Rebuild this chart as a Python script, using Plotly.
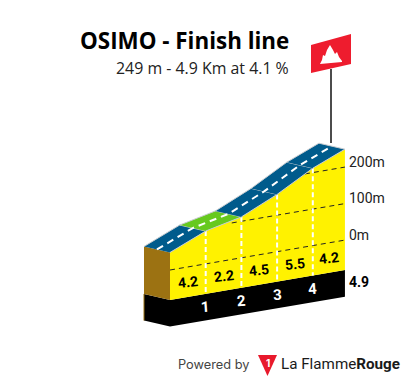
import plotly.graph_objects as go

# --- data ---
title = "OSIMO - Finish line"
subtitle = "249 m - 4.9 Km at 4.1 %"
km = [0, 1, 2, 3, 4, 4.9]
altitude = [48, 90, 112, 157, 212, 249]
gradient = [4.2, 2.2, 4.5, 5.5, 4.2]
segment_colors = ["#005b8c", "#66c91e", "#005b8c", "#005b8c", "#005b8c"]
km_marks = [1, 2, 3, 4]
km_mark_labels = ["1", "2", "3", "4"]
alt_grid = [0, 100, 200]
alt_grid_start_km = [0, 1.73, 3.78]
alt_grid_labels = ["0m", "100m", "200m"]
base_alt = -82
plinth_alt = -155
total_label = "4.9"

# --- projection: oblique view, altitude sheared along distance ---
W, H = 405, 381
PX_KM, PX_M = 35.7, 0.365
X0, Y0 = 170.0, 270.0
SHEAR = 0.171 * PX_KM / PX_M
BACK_KM, BACK_M = -26 / PX_KM, 6 / PX_M


def Y(k, a):
    return a + SHEAR * k


def back(k, a):
    # depth offset of the road / side wall
    return k + BACK_KM, Y(k, a) + BACK_M


def poly(xs, ys, color, line=None, w=0):
    return go.Scatter(x=xs, y=ys, mode="lines", fill="toself", fillcolor=color,
                      line=dict(color=line or color, width=w), hoverinfo="skip", showlegend=False)


def line(xs, ys, color, w, dash="solid"):
    return go.Scatter(x=xs, y=ys, mode="lines", line=dict(color=color, width=w, dash=dash),
                      hoverinfo="skip", showlegend=False)


fig = go.Figure()
k0, kn = km[0], km[-1]

# plinth
bx0, by0 = back(k0, base_alt)
bx1, by1 = back(k0, plinth_alt)
fig.add_trace(poly([bx0, k0, k0, bx1], [by0, Y(k0, base_alt), Y(k0, plinth_alt), by1], "#000000"))
fig.add_trace(poly([k0, kn, kn, k0], [Y(k0, base_alt), Y(kn, base_alt), Y(kn, plinth_alt), Y(k0, plinth_alt)], "#000000"))
fig.add_trace(line([bx0, bx1], [by0, by1], "#9a7012", 1))

# side wall
tx, ty = back(k0, altitude[0])
fig.add_trace(poly([tx, k0, k0, bx0], [ty, Y(k0, altitude[0]), Y(k0, base_alt), by0], "#9c7212"))

# front face
fig.add_trace(poly(km + [kn, k0], [Y(k, a) for k, a in zip(km, altitude)] + [Y(kn, base_alt), Y(k0, base_alt)], "#fff200"))

# altitude grid
for g, s in zip(alt_grid, alt_grid_start_km):
    fig.add_trace(line([s, kn], [Y(s, g), Y(kn, g)], "#222222", 1, "5px,4px"))

# km marks
for m in km_marks:
    a = altitude[km.index(m)]
    fig.add_trace(line([m, m], [Y(m, a), Y(m, base_alt)], "#ffffff", 2, "5px,3px"))

# road
for i, c in enumerate(segment_colors):
    b0 = back(km[i], altitude[i])
    b1 = back(km[i + 1], altitude[i + 1])
    fig.add_trace(poly([km[i], km[i + 1], b1[0], b0[0]],
                       [Y(km[i], altitude[i]), Y(km[i + 1], altitude[i + 1]), b1[1], b0[1]],
                       c, "#c8ccd0", 1))

# road centre line
cx = [k + BACK_KM / 2 for k in km]
cy = [Y(k, a) + BACK_M / 2 for k, a in zip(km, altitude)]
fig.add_trace(line(cx, cy, "#ffffff", 2, "7px,5px"))

ann = []


def text(x, y, s, size, color="#000000", family="Roboto", anchor="center", angle=0, ref="x", yref="y"):
    ann.append(dict(x=x, y=y, text=s, xref=ref, yref=yref, showarrow=False, xanchor=anchor, yanchor="middle",
                    textangle=angle, font=dict(size=size, color=color, family=family)))


# gradient labels
for i, g in enumerate(gradient):
    mid = (km[i] + km[i + 1]) / 2
    text(mid, Y(mid, base_alt) + 40, f"<b>{g}</b>", 14, angle=-6)

# km labels
for m, s in zip(km_marks, km_mark_labels):
    text(m, Y(m, base_alt) - 36, f"<b>{s}</b>", 15, color="#ffffff", angle=-4)

# altitude labels
for g, s in zip(alt_grid, alt_grid_labels):
    text(kn + 0.05, Y(kn, g) + 14, s, 14, color="#222222", family="Roboto", anchor="left")

text(kn + 0.05, Y(kn, base_alt) - 34, f"<b>{total_label}</b>", 14, anchor="left")


def pp(x, y):
    return x / W, 1 - y / H


def ptext(x, y, s, size, color, family, anchor):
    px, py = pp(x, y)
    text(px, py, s, size, color, family, anchor, ref="paper", yref="paper")


ptext(291, 41, f"<b>{title}</b>", 22.4, "#000000", "Open Sans", "right")
ptext(291, 68, subtitle, 15.9, "#222222", "Open Sans", "right")
ptext(176, 364, "Powered by", 12.8, "#444444", "Inter", "left")
ptext(278.5, 364, "La Flamme<b>Rouge</b>", 15.2, "#1a1a1a", "Roboto", "left")
ptext(267.5, 363, "<b>1</b>", 10, "#ffffff", "Inter", "center")


def path(points):
    return "M " + " L ".join(f"{x / W:.5f},{1 - y / H:.5f}" for x, y in points) + " Z"


shapes = []
for pts, col in [
    ([(311, 45), (351, 34), (351, 64), (311, 73)], "#ee1c2e"),
    ([(320, 64), (322, 60), (323, 55), (325, 56), (327, 50), (330, 45), (333, 50), (335, 54), (337, 52), (339, 57), (342, 61), (342, 62)], "#ffffff"),
    ([(258, 355), (277, 355), (267.5, 376)], "#e8192c"),
]:
    shapes.append(dict(type="path", path=path(pts), xref="paper", yref="paper", fillcolor=col, line=dict(width=0)))
x0, y0 = pp(331, 69)
x1, y1 = pp(331, 143)
shapes.append(dict(type="line", x0=x0, y0=y0, x1=x1, y1=y1, xref="paper", yref="paper", line=dict(color="#111111", width=1.5)))

fig.update_layout(
    width=W, height=H, margin=dict(l=0, r=0, t=0, b=0),
    paper_bgcolor="white", plot_bgcolor="white", showlegend=False,
    xaxis=dict(range=[-X0 / PX_KM, (W - X0) / PX_KM], visible=False, fixedrange=True),
    yaxis=dict(range=[(Y0 - H) / PX_M, Y0 / PX_M], visible=False, fixedrange=True),
    annotations=ann, shapes=shapes,
)
fig.write_html("out.html", config={"displayModeBar": False}, post_script="document.body.style.margin='0';")
